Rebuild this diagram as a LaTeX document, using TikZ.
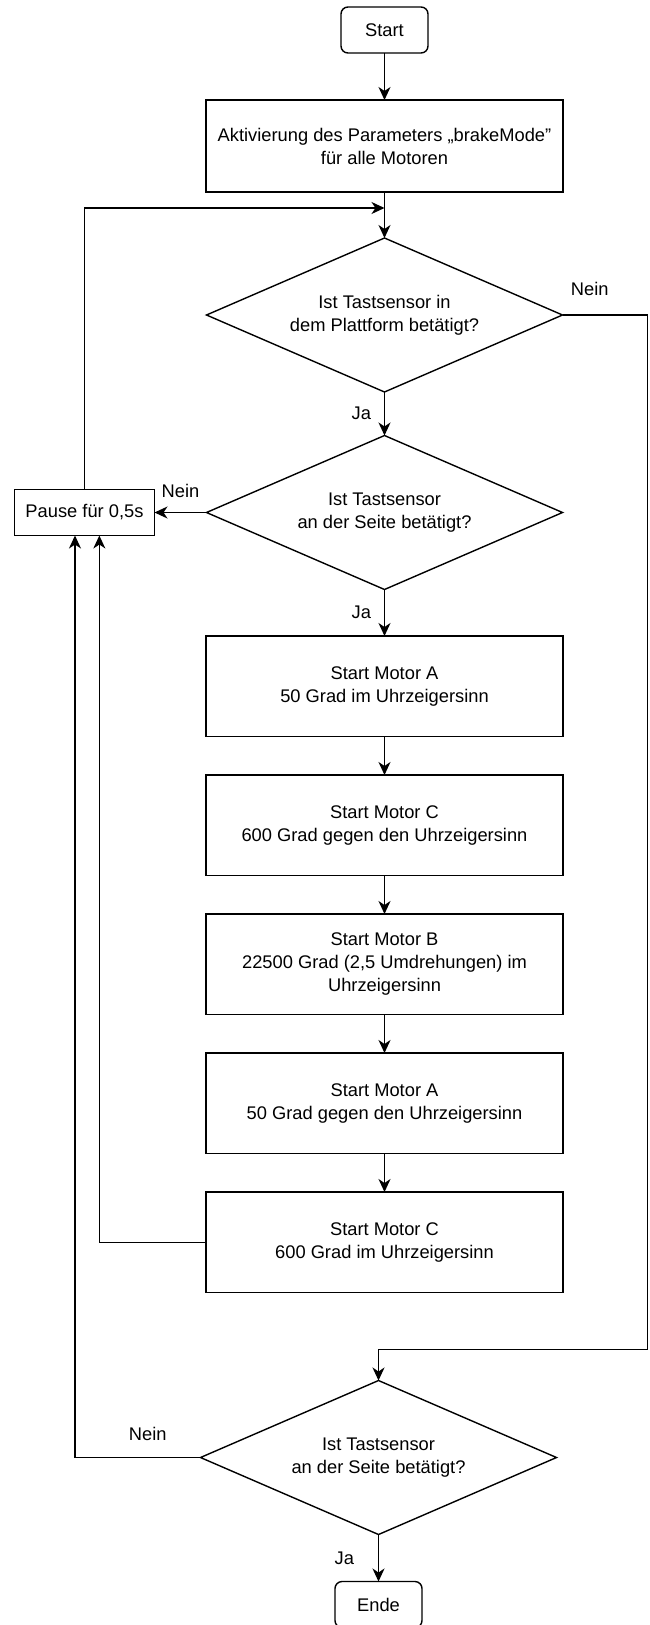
\documentclass[tikz,border=0pt]{standalone}
\usepackage{fontspec}
\setmainfont{Liberation Sans}
\usetikzlibrary{positioning,shapes.geometric,arrows.meta,calc}

\tikzset{
  flow/.style={draw, line width=1.4pt, outer sep=0pt, align=center, font=\fontsize{18.3}{23}\selectfont},
  terminal/.style={flow, rounded corners=7pt, minimum width=87pt, minimum height=46pt},
  process/.style={flow, minimum width=357pt, minimum height=100.5pt, inner sep=0pt},
  decision/.style={flow, diamond, aspect=2.31, minimum width=356pt, minimum height=154pt, inner sep=0pt},
  conn/.style={line width=1.4pt, -{Stealth[length=13pt,width=12pt,inset=4pt]}},
  lbl/.style={font=\fontsize{18.3}{23}\selectfont},
}

\begin{document}
\begin{tikzpicture}[x=1pt,y=1pt]
    \useasboundingbox (0,0) rectangle (649,-1625);
    \clip (0,0) rectangle (649,-1625);

    \node[terminal] (start) at (384.5,-30) {Start};
    \node[process, minimum height=92pt, below=47pt of start] (brake) {Aktivierung des Parameters „brakeMode”\\für alle Motoren};
    \node[decision, below=46pt of brake] (platform) {Ist Tastsensor in\\dem Plattform betätigt?};
    \node[decision, below=43.5pt of platform] (side) {Ist Tastsensor\\an der Seite betätigt?};
    \node[process, below=46.5pt of side] (motorA1) {Start Motor A\\50 Grad im Uhrzeigersinn};
    \node[process, below=38.5pt of motorA1] (motorC1) {Start Motor C\\600 Grad gegen den Uhrzeigersinn};
    \node[process, below=38.5pt of motorC1] (motorB) {Start Motor B\\22500 Grad (2,5 Umdrehungen) im\\Uhrzeigersinn};
    \node[process, below=38.5pt of motorB] (motorA2) {Start Motor A\\50 Grad gegen den Uhrzeigersinn};
    \node[process, below=38.5pt of motorA2] (motorC2) {Start Motor C\\600 Grad im Uhrzeigersinn};
    \node[decision, below=88pt of motorC2, xshift=-6pt] (sideEnd) {Ist Tastsensor\\an der Seite betätigt?};
    \node[terminal, below=47pt of sideEnd] (ende) {Ende};
    \node[flow, minimum width=140pt, minimum height=46pt, inner sep=0pt, left=52pt of side] (pause) {Pause für 0,5s};

    \coordinate[below=16pt of brake] (merge);
    \coordinate (pauseIn1) at ($(pause.south west)!0.432!(pause.south east)$);
    \coordinate (pauseIn2) at ($(pause.south west)!0.606!(pause.south east)$);

    \draw[conn] (start) -- (brake);
    \draw[conn] (brake) -- (platform);
    \draw[conn] (pause) |- (merge);
    \draw[conn] (platform) -- node[lbl, left=9.5pt] {Ja} (side);
    \draw[conn] (side) -- node[lbl, above=10.8pt] {Nein} (pause);
    \draw[conn] (side) -- node[lbl, left=9.5pt] {Ja} (motorA1);
    \draw[conn] (motorA1) -- (motorC1);
    \draw[conn] (motorC1) -- (motorB);
    \draw[conn] (motorB) -- (motorA2);
    \draw[conn] (motorA2) -- (motorC2);
    \draw[conn] (motorC2.west) -| (pauseIn2);
    \draw[conn] (sideEnd.west) -- node[lbl, above=13pt, pos=0.42] {Nein} (sideEnd.west -| pauseIn1) -- (pauseIn1);
    \draw[conn] (platform.east) -- node[lbl, above=15pt, pos=0.32] {Nein} ++(85,0) |- ($(sideEnd.north)+(0,31)$) -- (sideEnd.north);
    \draw[conn] (sideEnd) -- node[lbl, left=20.4pt] {Ja} (ende);
\end{tikzpicture}
\end{document}
